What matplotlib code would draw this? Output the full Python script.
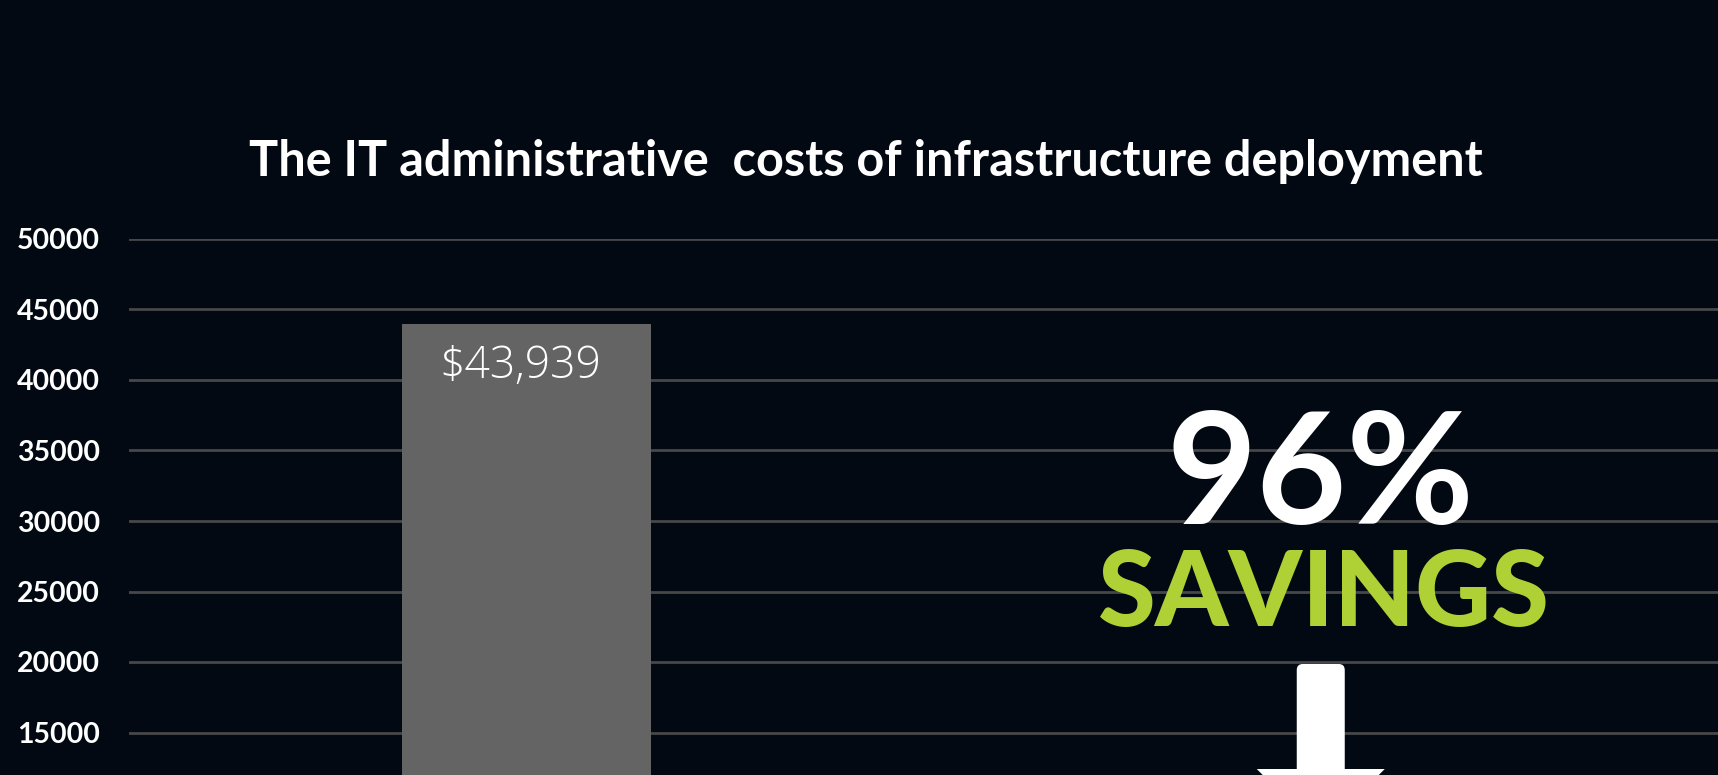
import matplotlib.pyplot as plt
import matplotlib.patches as mpatches

# data
categories = ['Traditional', 'Automated']
costs = [43939, 1758]
bar_labels = ['$43,939', '']
yticks = list(range(0, 50001, 5000))
title = 'The IT administrative  costs of infrastructure deployment'
pct_text = '96%'
savings_text = 'SAVINGS'

BG = '#020912'
GRID = '#474747'
BAR = '#646464'
GREEN = '#afd135'
FONT = 'Lato'

fig = plt.figure(figsize=(17.18, 7.75), dpi=100, facecolor=BG)
# axes runs off the bottom of the picture (the reference is a crop)
ax = fig.add_axes([129/1718, -169/775, 1589/1718, (944-239)/775])
ax.set_facecolor(BG)
ax.set_xlim(-0.5, 1.5)
ax.set_ylim(0, 50000)

ax.bar(range(len(categories)), costs, width=0.313, color=BAR, zorder=2)
for i, (v, lab) in enumerate(zip(costs, bar_labels)):
    if lab:
        ax.text(i - 0.008, v - 1450, lab, ha='center', va='top', color='white',
                family='Open Sans', weight='light', size=32, zorder=3)

ax.set_yticks(yticks)
ax.set_yticklabels([str(t) for t in yticks], family=FONT, weight='bold',
                   size=20.5, color='white')
# labels below the crop line are not in the picture anyway
for t, lab in zip(yticks, ax.get_yticklabels()):
    if t < 15000:
        lab.set_visible(False)
ax.tick_params(axis='y', length=0, pad=21)
ax.set_xticks([])
ax.grid(axis='y', color=GRID, lw=2, zorder=1)
for s in ax.spines.values():
    s.set_visible(False)

fig.text(866/1718, (775-176)/775, title, ha='center', va='baseline',
         color='white', family=FONT, weight='bold', size=35)

# savings callout over the second bar
ax.text(1, 29787, pct_text, ha='center', va='baseline', color='white',
        family=FONT, weight='bold', size=112, zorder=4)
ax.text(1.004, 22553, savings_text, ha='center', va='baseline', color=GREEN,
        family=FONT, weight='black', size=75.5, zorder=4)

# down arrow
px_x = 1/794.5
px_y = 5000/70.5
shaft_w = 48*px_x
shaft = mpatches.FancyBboxPatch((1 - shaft_w/2, 9000), shaft_w, 19858 - 9000,
                                boxstyle=mpatches.BoxStyle('Round', pad=0, rounding_size=6*px_x),
                                mutation_aspect=px_y/px_x, fc='white', ec='none', zorder=4)
ax.add_patch(shaft)
head_w = 128*px_x
head = mpatches.Polygon([(1 - head_w/2, 12411), (1 + head_w/2, 12411), (1, 12411 - 64*px_y)],
                        closed=True, fc='white', ec='none', zorder=4)
ax.add_patch(head)

fig.savefig('out.png', dpi=100, facecolor=BG)
